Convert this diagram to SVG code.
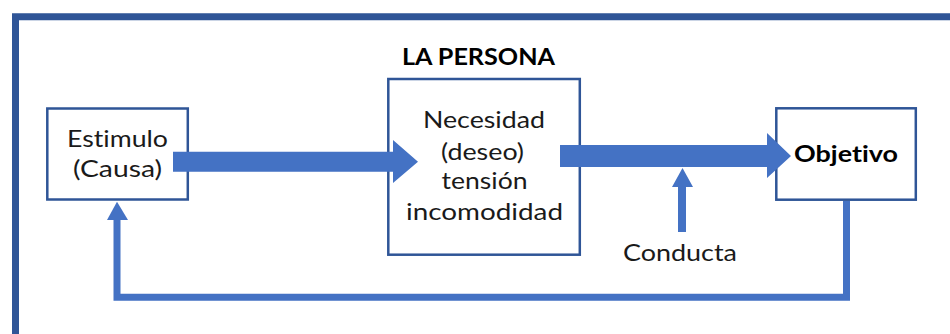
<svg xmlns="http://www.w3.org/2000/svg" width="950" height="334" viewBox="0 0 950 334">
  <style>
    .box { fill: #ffffff; stroke: #2F5597; stroke-width: 2.5; }
    .txt { font-family: Lato, "Open Sans", "Liberation Sans", sans-serif; font-size: 23px; fill: #1a1a1a; text-anchor: middle; font-variant-ligatures: none; font-feature-settings: "liga" 0, "clig" 0; }
    .bold { font-weight: bold; fill: #000000; }
    .arrow { fill: #4472C4; }
    .line { fill: none; stroke: #4472C4; stroke-width: 7; stroke-linejoin: miter; }
  </style>
  <rect x="0" y="0" width="950" height="334" fill="#ffffff"/>
  <path d="M15.5,340 V16.7 H960" fill="none" stroke="#2F5597" stroke-width="7"/>

  <text class="txt bold" x="478.5" y="65" textLength="153" lengthAdjust="spacingAndGlyphs">LA PERSONA</text>

  <g id="estimulo">
    <rect class="box" x="47.3" y="108.5" width="140.5" height="91"/>
    <text class="txt" x="117.5" y="146.7" textLength="101" lengthAdjust="spacingAndGlyphs">Estimulo</text>
    <text class="txt" x="117.5" y="177.3" textLength="89" lengthAdjust="spacingAndGlyphs">(Causa)</text>
  </g>

  <g id="persona">
    <rect class="box" x="388.3" y="79" width="191.5" height="175.7"/>
    <text class="txt" x="484" y="128.3" textLength="122" lengthAdjust="spacingAndGlyphs">Necesidad</text>
    <text class="txt" x="482.5" y="159.5" textLength="83" lengthAdjust="spacingAndGlyphs">(deseo)</text>
    <text class="txt" x="484.5" y="189.3" textLength="86" lengthAdjust="spacingAndGlyphs">tensión</text>
    <text class="txt" x="484.5" y="220" textLength="157" lengthAdjust="spacingAndGlyphs">incomodidad</text>
  </g>

  <g id="objetivo">
    <rect class="box" x="776.3" y="108.3" width="139.5" height="91.4"/>
    <text class="txt bold" x="846" y="161.7" textLength="104" lengthAdjust="spacingAndGlyphs">Objetivo</text>
  </g>

  <g id="conducta">
    <text class="txt" x="680" y="261" textLength="114" lengthAdjust="spacingAndGlyphs">Conducta</text>
  </g>

  <g id="connectors">
    <polygon class="arrow" points="173,151.7 393,151.7 393,140 418,161.7 393,183 393,171.7 173,171.7"/>
    <polygon class="arrow" points="560,145 767,145 767,133 791,156 767,178 767,167 560,167"/>
    <polygon class="arrow" points="678,232 678,187 672,187 682.5,168 693,187 686,187 686,232"/>
    <polyline class="line" points="846.5,201 846.5,297.3 117,297.3 117,219"/>
    <polygon class="arrow" points="107,220 117,201.7 128,220"/>
  </g>
</svg>
